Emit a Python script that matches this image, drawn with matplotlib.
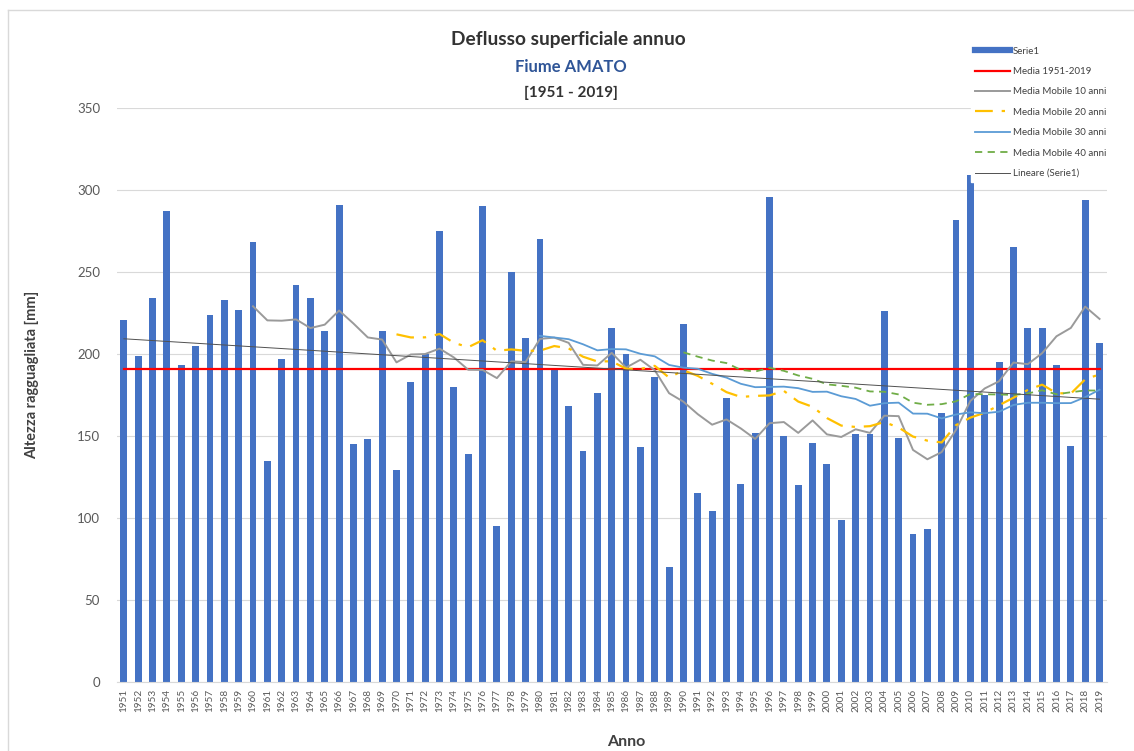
import matplotlib.pyplot as plt
from matplotlib.lines import Line2D
import numpy as np
import pandas as pd

# Deflusso superficiale annuo - Fiume AMATO
anni = list(range(1951, 2020))
deflusso = [221, 199, 234, 287, 193, 205, 224, 233, 227, 268,
            135, 197, 242, 234, 214, 291, 145, 148, 214, 129,
            183, 200, 275, 180, 139, 290, 95, 250, 210, 270,
            191, 168, 141, 176, 216, 200, 143, 186, 70, 218,
            115, 104, 173, 121, 152, 296, 150, 120, 146, 133,
            99, 151, 151, 226, 149, 90, 93, 164, 282, 309,
            175, 195, 265, 216, 216, 193, 144, 294, 207]
finestre = [10, 20, 30, 40]  # medie mobili

plt.rcParams['font.family'] = ['Lato', 'DejaVu Sans']

W, H = 1134, 751
fig = plt.figure(figsize=(W / 100, H / 100), dpi=100)
ax = fig.add_axes([116.7 / W, 1 - 682 / H, 990 / W, 574 / H])

x = np.arange(len(anni))
s = pd.Series(deflusso, dtype=float)

barre = ax.bar(x, deflusso, width=0.48, color="#4472C4", zorder=2)
media = s.mean()
l_media, = ax.plot([x[0], x[-1]], [media, media], color="#FF0000", lw=1.6, zorder=3)

stili = {10: dict(color="#9A9A9A", lw=1.4, ls="-"),
         20: dict(color="#FFC000", lw=1.6, ls=(0, (8, 4, 1.5, 4))),
         30: dict(color="#5B9BD5", lw=1.3, ls="-"),
         40: dict(color="#70AD47", lw=1.3, ls=(0, (4, 3)))}
linee_mm = []
for n in finestre:
    mm = s.rolling(n).mean()
    l, = ax.plot(x, mm, zorder=4, **stili[n])
    linee_mm.append(l)

# trend lineare
coef = np.polyfit(x, deflusso, 1)
l_lin, = ax.plot(x, np.polyval(coef, x), color="#505050", lw=0.7, zorder=5)

ax.set_xlim(-0.5, len(anni) - 0.5)
ax.set_ylim(0, 350)
ax.set_yticks(range(0, 351, 50))
ax.set_xticks(x)
ax.set_xticklabels([str(a) for a in anni], rotation=90, fontsize=7.2, color="#595959")
ax.tick_params(axis="y", labelsize=9.5, labelcolor="#595959", length=0, pad=12)
ax.tick_params(axis="x", length=0, pad=5)
ax.grid(axis="y", color="#D9D9D9", lw=0.8, zorder=0)
ax.set_axisbelow(True)
for sp in ["top", "right", "left"]:
    ax.spines[sp].set_visible(False)
ax.spines["bottom"].set_color("#D9D9D9")

fig.text(32 / W, 1 - 375 / H, "Altezza ragguagliata [mm]", rotation=90,
         ha="center", va="center", fontsize=10.5, fontweight="bold", color="#404040")
fig.text(626 / W, 1 - 742 / H, "Anno", ha="center", va="center",
         fontsize=11.5, fontweight="bold", color="#404040")

# titolo
fig.text(568 / W, 1 - 40 / H, "Deflusso superficiale annuo", ha="center", va="center",
         fontsize=13.8, fontweight="bold", color="#333333")
fig.text(571 / W, 1 - 67 / H, "Fiume AMATO", ha="center", va="center",
         fontsize=12, fontweight="bold", color="#2F5597")
fig.text(571 / W, 1 - 93 / H, "[1951 - 2019]", ha="center", va="center",
         fontsize=11, fontweight="bold", color="#333333")

# legenda
h_serie = Line2D([], [], color="#4472C4", lw=4.5)
handles = [h_serie, l_media] + linee_mm + [l_lin]
labels = ["Serie1", "Media 1951-2019"] + ["Media Mobile %d anni" % n for n in finestre] + ["Lineare (Serie1)"]
leg = fig.legend(handles, labels, loc="upper left", bbox_to_anchor=(966 / W, 1 - 38 / H),
                 fontsize=7, frameon=True, facecolor="white", edgecolor="white",
                 fancybox=False, framealpha=1, handlelength=3.6, handletextpad=0.35,
                 labelspacing=1.17, borderpad=0.4)
for t in leg.get_texts():
    t.set_color("#404040")

# bordo dell'area del grafico
fig.add_artist(Line2D([8 / W, 8 / W], [0, 1 - 10 / H], transform=fig.transFigure, color="#D9D9D9", lw=1))
fig.add_artist(Line2D([8 / W, 1], [1 - 10 / H, 1 - 10 / H], transform=fig.transFigure, color="#D9D9D9", lw=1))

fig.savefig("out.png", dpi=100, facecolor="white")
